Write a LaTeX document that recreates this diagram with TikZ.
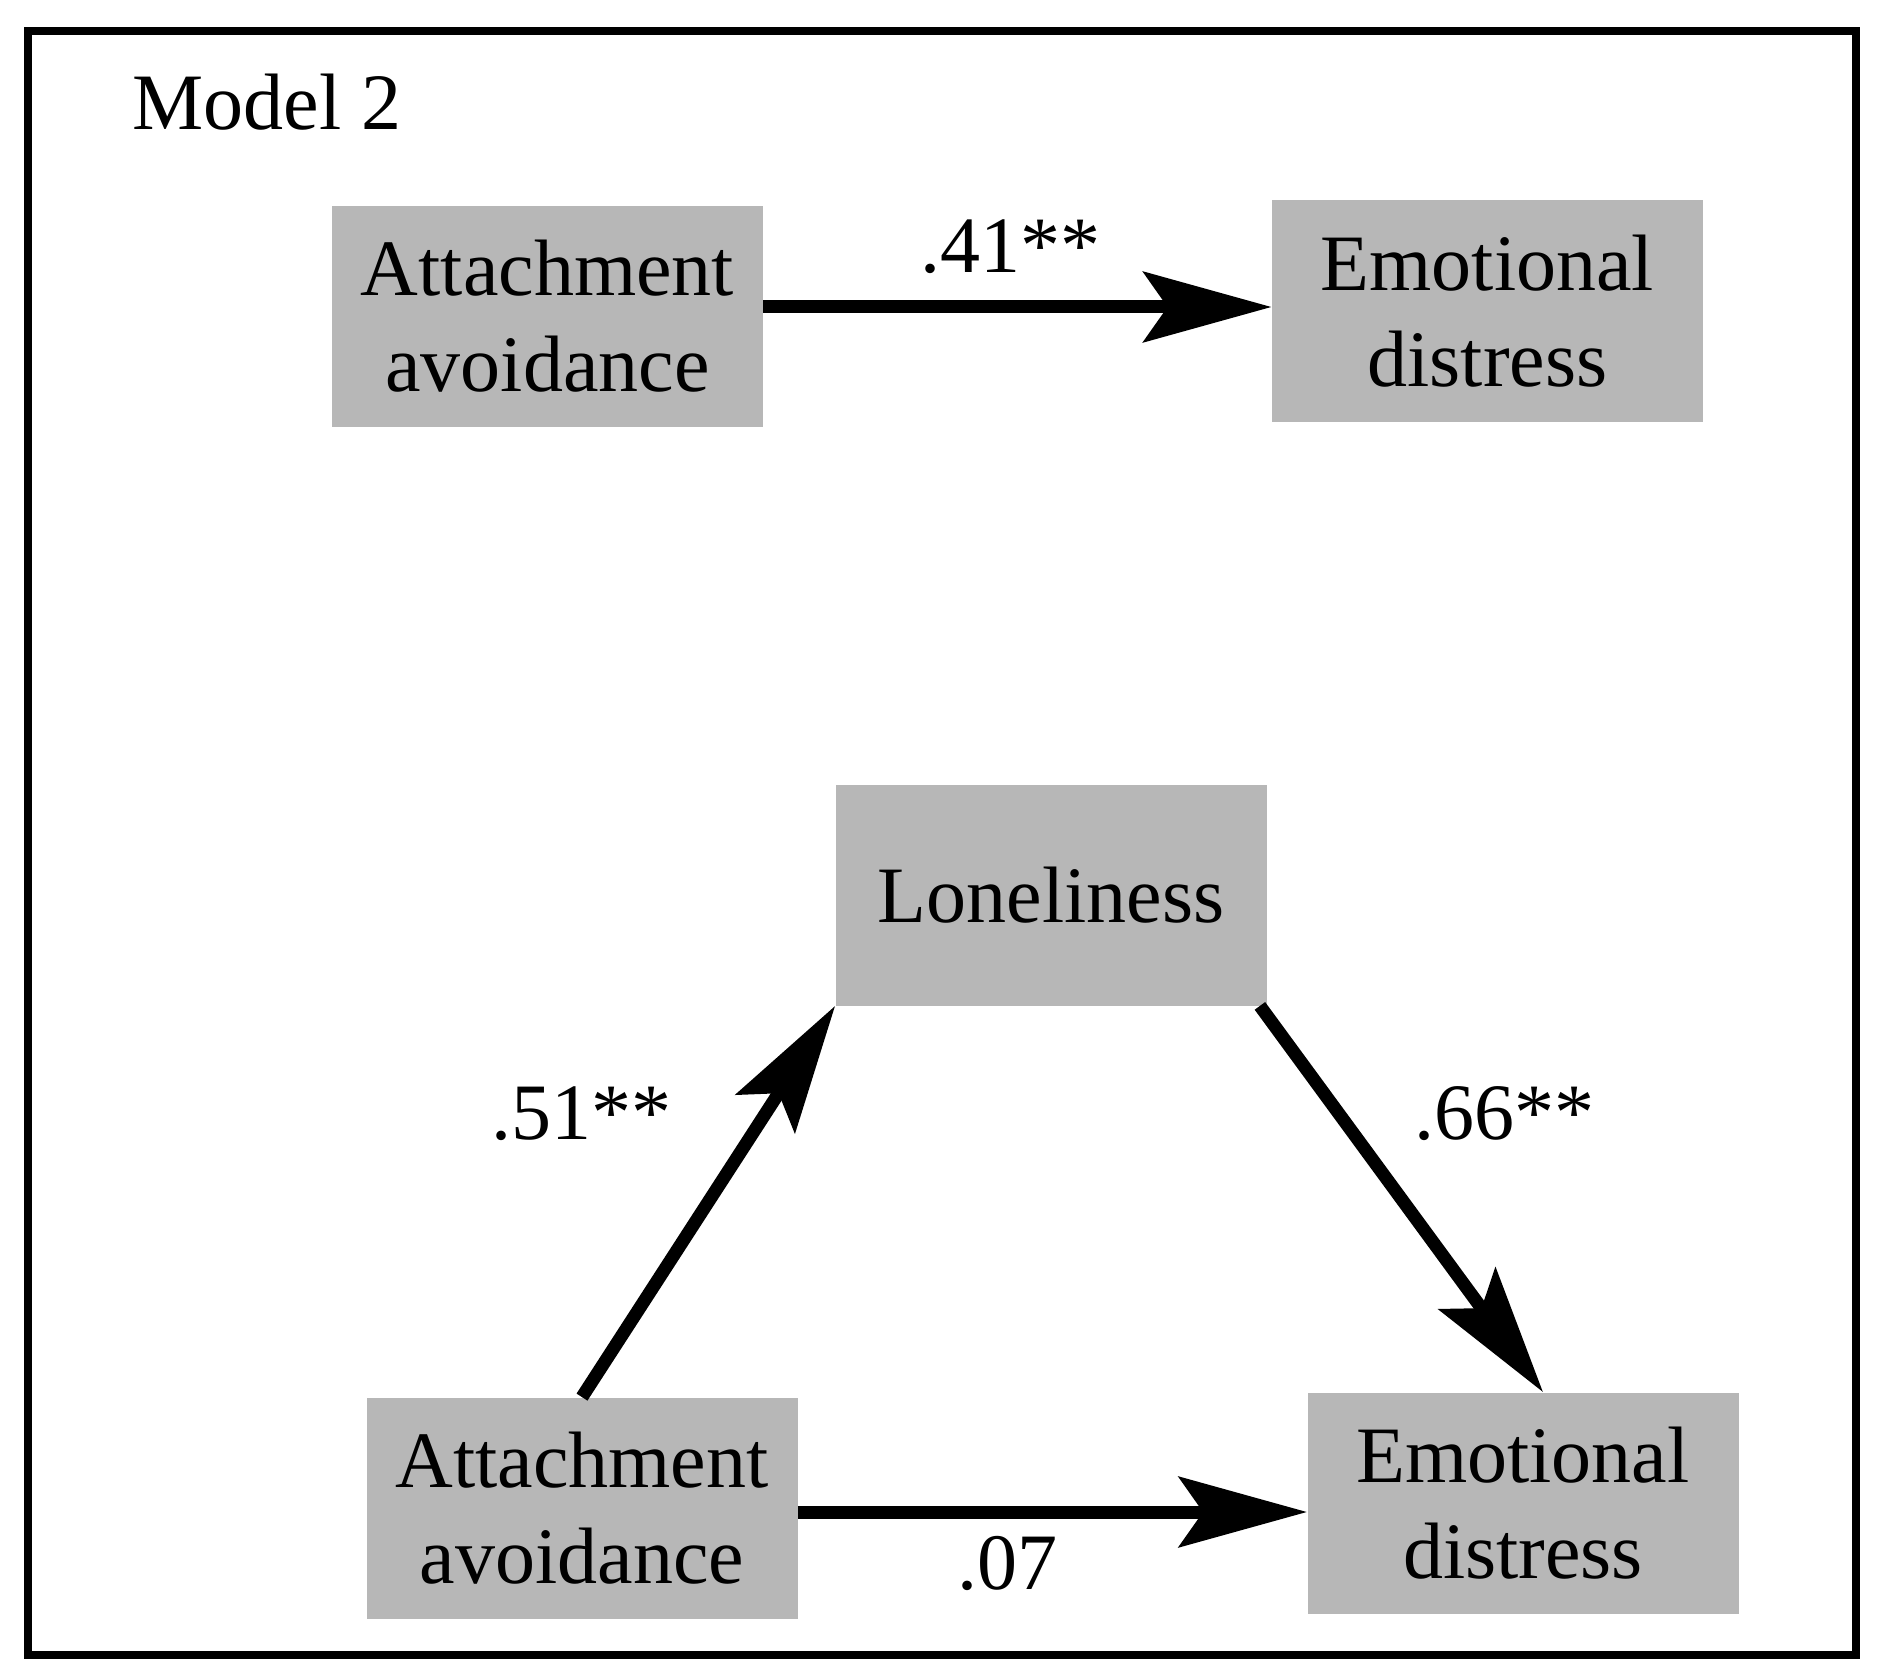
\documentclass[tikz,border=0pt]{standalone}
\usepackage{fontspec}
\setmainfont{Liberation Serif}
\usetikzlibrary{arrows.meta}
\definecolor{boxgray}{RGB}{183,183,183}
\begin{document}
\begin{tikzpicture}[x=0.5pt,y=-0.5pt,
  boxnode/.style={fill=boxgray, minimum width=215.5pt, minimum height=110.5pt, inner sep=0pt, align=center, font=\fontsize{40pt}{48pt}\selectfont},
  lbl/.style={font=\fontsize{40pt}{48pt}\selectfont, inner sep=0pt},
  arr/.style={line width=6.5pt, -{Stealth[length=64pt,width=35pt,inset=12pt]}}]
\useasboundingbox (0,0) rectangle (1880,1680);
\draw[line width=4pt] (28,31) rectangle (1856,1655);
\node[lbl, anchor=base west] (title) at (132,130) {Model 2};
\node[boxnode] (A1) at (547.5,316.5) {Attachment\\avoidance};
\node[boxnode] (E1) at (1487.5,311) {Emotional\\distress};
\node[boxnode] (L) at (1051,895) {Loneliness};
\node[boxnode] (A2) at (582,1508) {Attachment\\avoidance};
\node[boxnode] (E2) at (1523,1503) {Emotional\\distress};
\coordinate (y1) at (0,307);
\coordinate (y2) at (0,1512);
\draw[arr] (A1.east |- y1) -- (E1.west |- y1);
\draw[arr] (A2.north) -- (L.south west);
\draw[arr] ([xshift=-3.5pt]L.south east) -- ([xshift=10pt]E2.north);
\draw[arr] (A2.east |- y2) -- (E2.west |- y2);
\node[lbl, anchor=base] (l41) at (1010,273) {.41**};
\node[lbl, anchor=base] (l51) at (581,1139) {.51**};
\node[lbl, anchor=base] (l66) at (1504,1139) {.66**};
\node[lbl, anchor=base] (l07) at (1007,1589) {.07};
\end{tikzpicture}
\end{document}
